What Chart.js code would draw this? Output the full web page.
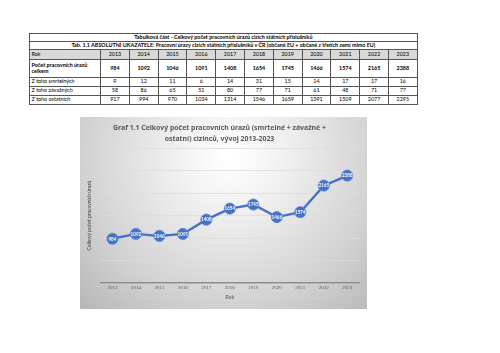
<!DOCTYPE html>
<html lang="cs">
<head>
<meta charset="utf-8">
<title>Graf 1.1</title>
<script src="https://cdn.jsdelivr.net/npm/chart.js@4/dist/chart.umd.min.js"></script>
<style>
    html, body { margin: 0; padding: 0; background: #fff; }
    body { width: 500px; height: 353px; position: relative; overflow: hidden; font-family: 'Lato', 'DejaVu Sans', sans-serif; }
    #tab { position: absolute; left: 29px; top: 33px; border-collapse: collapse; table-layout: fixed; font-size: 5.4px; color: #000; }
    #tab td { border: 0.8px solid #555; padding: 0 1.5px; line-height: 1; white-space: nowrap; overflow: hidden; }
    #tab td.num { text-align: center; }
    #tab tr.head td { text-align: center; font-weight: bold; }
    #tab tr.rok td { background: #d9d9d9; }
    #tab tr.total td { font-weight: bold; white-space: normal; }
    #box { position: absolute; left: 80px; top: 117px; width: 287px; height: 192px; border: 1px solid #d9d9d9; box-sizing: border-box; }
    #graf { position: absolute; left: -1px; top: -1px; }
</style>
</head>
<body>
<table id="tab"><colgroup id="cols"></colgroup><tbody id="tbody"></tbody></table>
<div id="box"><canvas id="graf" width="287" height="192"></canvas></div>
<script>
/* ── Data ─────────────────────────────────────────────────────── */
var years      = ['2013', '2014', '2015', '2016', '2017', '2018', '2019', '2020', '2021', '2022', '2023'];
var totals     = [984, 1092, 1046, 1091, 1408, 1654, 1745, 1466, 1574, 2165, 2388];
var fatal      = [9, 12, 11, 6, 14, 31, 15, 14, 17, 17, 16];
var serious    = [58, 86, 65, 51, 80, 77, 71, 61, 48, 71, 77];
var other      = [917, 994, 970, 1034, 1314, 1546, 1659, 1391, 1509, 2077, 2295];
var yTicks     = [0, 500, 1000, 1500, 2000, 2500, 3000];

(function () {
    'use strict';

    /* ── Table ────────────────────────────────────────────────── */
    var cols = document.getElementById('cols');
    var body = document.getElementById('tbody');
    var html = '<col style="width:71px">';
    years.forEach(function () { html += '<col style="width:28.8px">'; });
    cols.innerHTML = html;

    function row(cls, h, label, vals) {
        var s = '<tr class="' + cls + '" style="height:' + h + 'px"><td>' + label + '</td>';
        vals.forEach(function (v) { s += '<td class="num">' + v + '</td>'; });
        return s + '</tr>';
    }
    var span = years.length + 1;
    var rows = '';
    rows += '<tr class="head" style="height:8px"><td colspan="' + span + '">Tabulková část - Celkový počet pracovních úrazů cizích státních příslušníků</td></tr>';
    rows += '<tr class="head" style="height:8px"><td colspan="' + span + '">Tab. 1.1 ABSOLUTNÍ UKAZATELE: Pracovní úrazy cizích státních příslušníků v ČR (občané EU + občané z třetích zemí mimo EU)</td></tr>';
    rows += row('rok', 10, 'Rok', years);
    rows += row('total', 18, 'Počet pracovních úrazů celkem', totals);
    rows += row('', 9, 'Z toho smrtelných', fatal);
    rows += row('', 9, 'Z toho závažných', serious);
    rows += row('', 9, 'Z toho ostatních', other);
    body.innerHTML = rows;

    /* ── Chart plugins ────────────────────────────────────────── */
    var background = {
        id: 'background',
        beforeDraw: function (chart) {
            var c = chart.ctx, w = chart.width, h = chart.height;
            var g = c.createRadialGradient(150, 40, 5, 150, 40, 220);
            g.addColorStop(0, '#ffffff');
            g.addColorStop(0.2, '#f2f2f2');
            g.addColorStop(0.65, '#d2d2d2');
            g.addColorStop(1, '#b4b4b4');
            c.save();
            c.fillStyle = g;
            c.fillRect(0, 0, w, h);
            c.restore();
        },
    };

    var valueLabels = {
        id: 'valueLabels',
        afterDatasetsDraw: function (chart) {
            var c = chart.ctx;
            var meta = chart.getDatasetMeta(0);
            c.save();
            c.font = 'bold 4.6px Lato, sans-serif';
            c.fillStyle = '#ffffff';
            c.textAlign = 'center';
            c.textBaseline = 'middle';
            meta.data.forEach(function (pt, i) {
                c.fillText(String(totals[i]), pt.x, pt.y + 0.3);
            });
            c.restore();
        },
    };

    /* ── Line chart ───────────────────────────────────────────── */
    new Chart(document.getElementById('graf'), {
        type: 'line',
        data: {
            labels: years,
            datasets: [{
                data: totals,
                borderColor: '#4472c4',
                backgroundColor: '#4472c4',
                borderWidth: 2.4,
                pointRadius: 5.6,
                pointBorderWidth: 0.8,
                pointBorderColor: '#5b85d4',
                tension: 0,
            }],
        },
        options: {
            responsive: false,
            animation: false,
            events: [],
            layout: { padding: { left: 0, right: 8, top: 0, bottom: 0 } },
            plugins: {
                legend: { display: false },
                tooltip: { enabled: false },
                title: {
                    display: true,
                    text: ['Graf 1.1 Celkový počet pracovních úrazů (smrtelné + závažné +', 'ostatní) cizinců, vývoj 2013-2023'],
                    color: '#595959',
                    font: { family: "'Noto Sans', sans-serif", size: 6.9, weight: 'bold', lineHeight: 1.6 },
                    padding: { top: 5.5, bottom: 3.5 },
                },
            },
            scales: {
                x: {
                    offset: true,
                    grid: { display: false, drawTicks: false },
                    border: { display: true, color: '#8c8c8c', width: 1.6 },
                    ticks: { color: '#595959', padding: 1.5, maxRotation: 0, font: { family: 'Liberation Serif', size: 5 } },
                    title: { display: true, text: 'Rok', color: '#595959', font: { family: 'Lato', size: 5.5 }, padding: { top: 0, bottom: 8 } },
                    afterFit: function (s) { s.height = 26; },
                },
                y: {
                    min: yTicks[0],
                    max: yTicks[yTicks.length - 1],
                    afterBuildTicks: function (s) { s.ticks = yTicks.map(function (v) { return { value: v }; }); },
                    grid: { color: '#dcdcdc', lineWidth: 0.8, drawTicks: false },
                    border: { display: false },
                    ticks: { display: false },
                    title: { display: true, text: 'Celkový počet pracovních úrazů', color: '#404040', font: { family: 'Lato', size: 5 }, padding: { top: 6, bottom: 0 } },
                    afterFit: function (s) { s.width = 20.7; },
                },
            },
        },
        plugins: [background, valueLabels],
    });
}());
</script>
</body>
</html>
